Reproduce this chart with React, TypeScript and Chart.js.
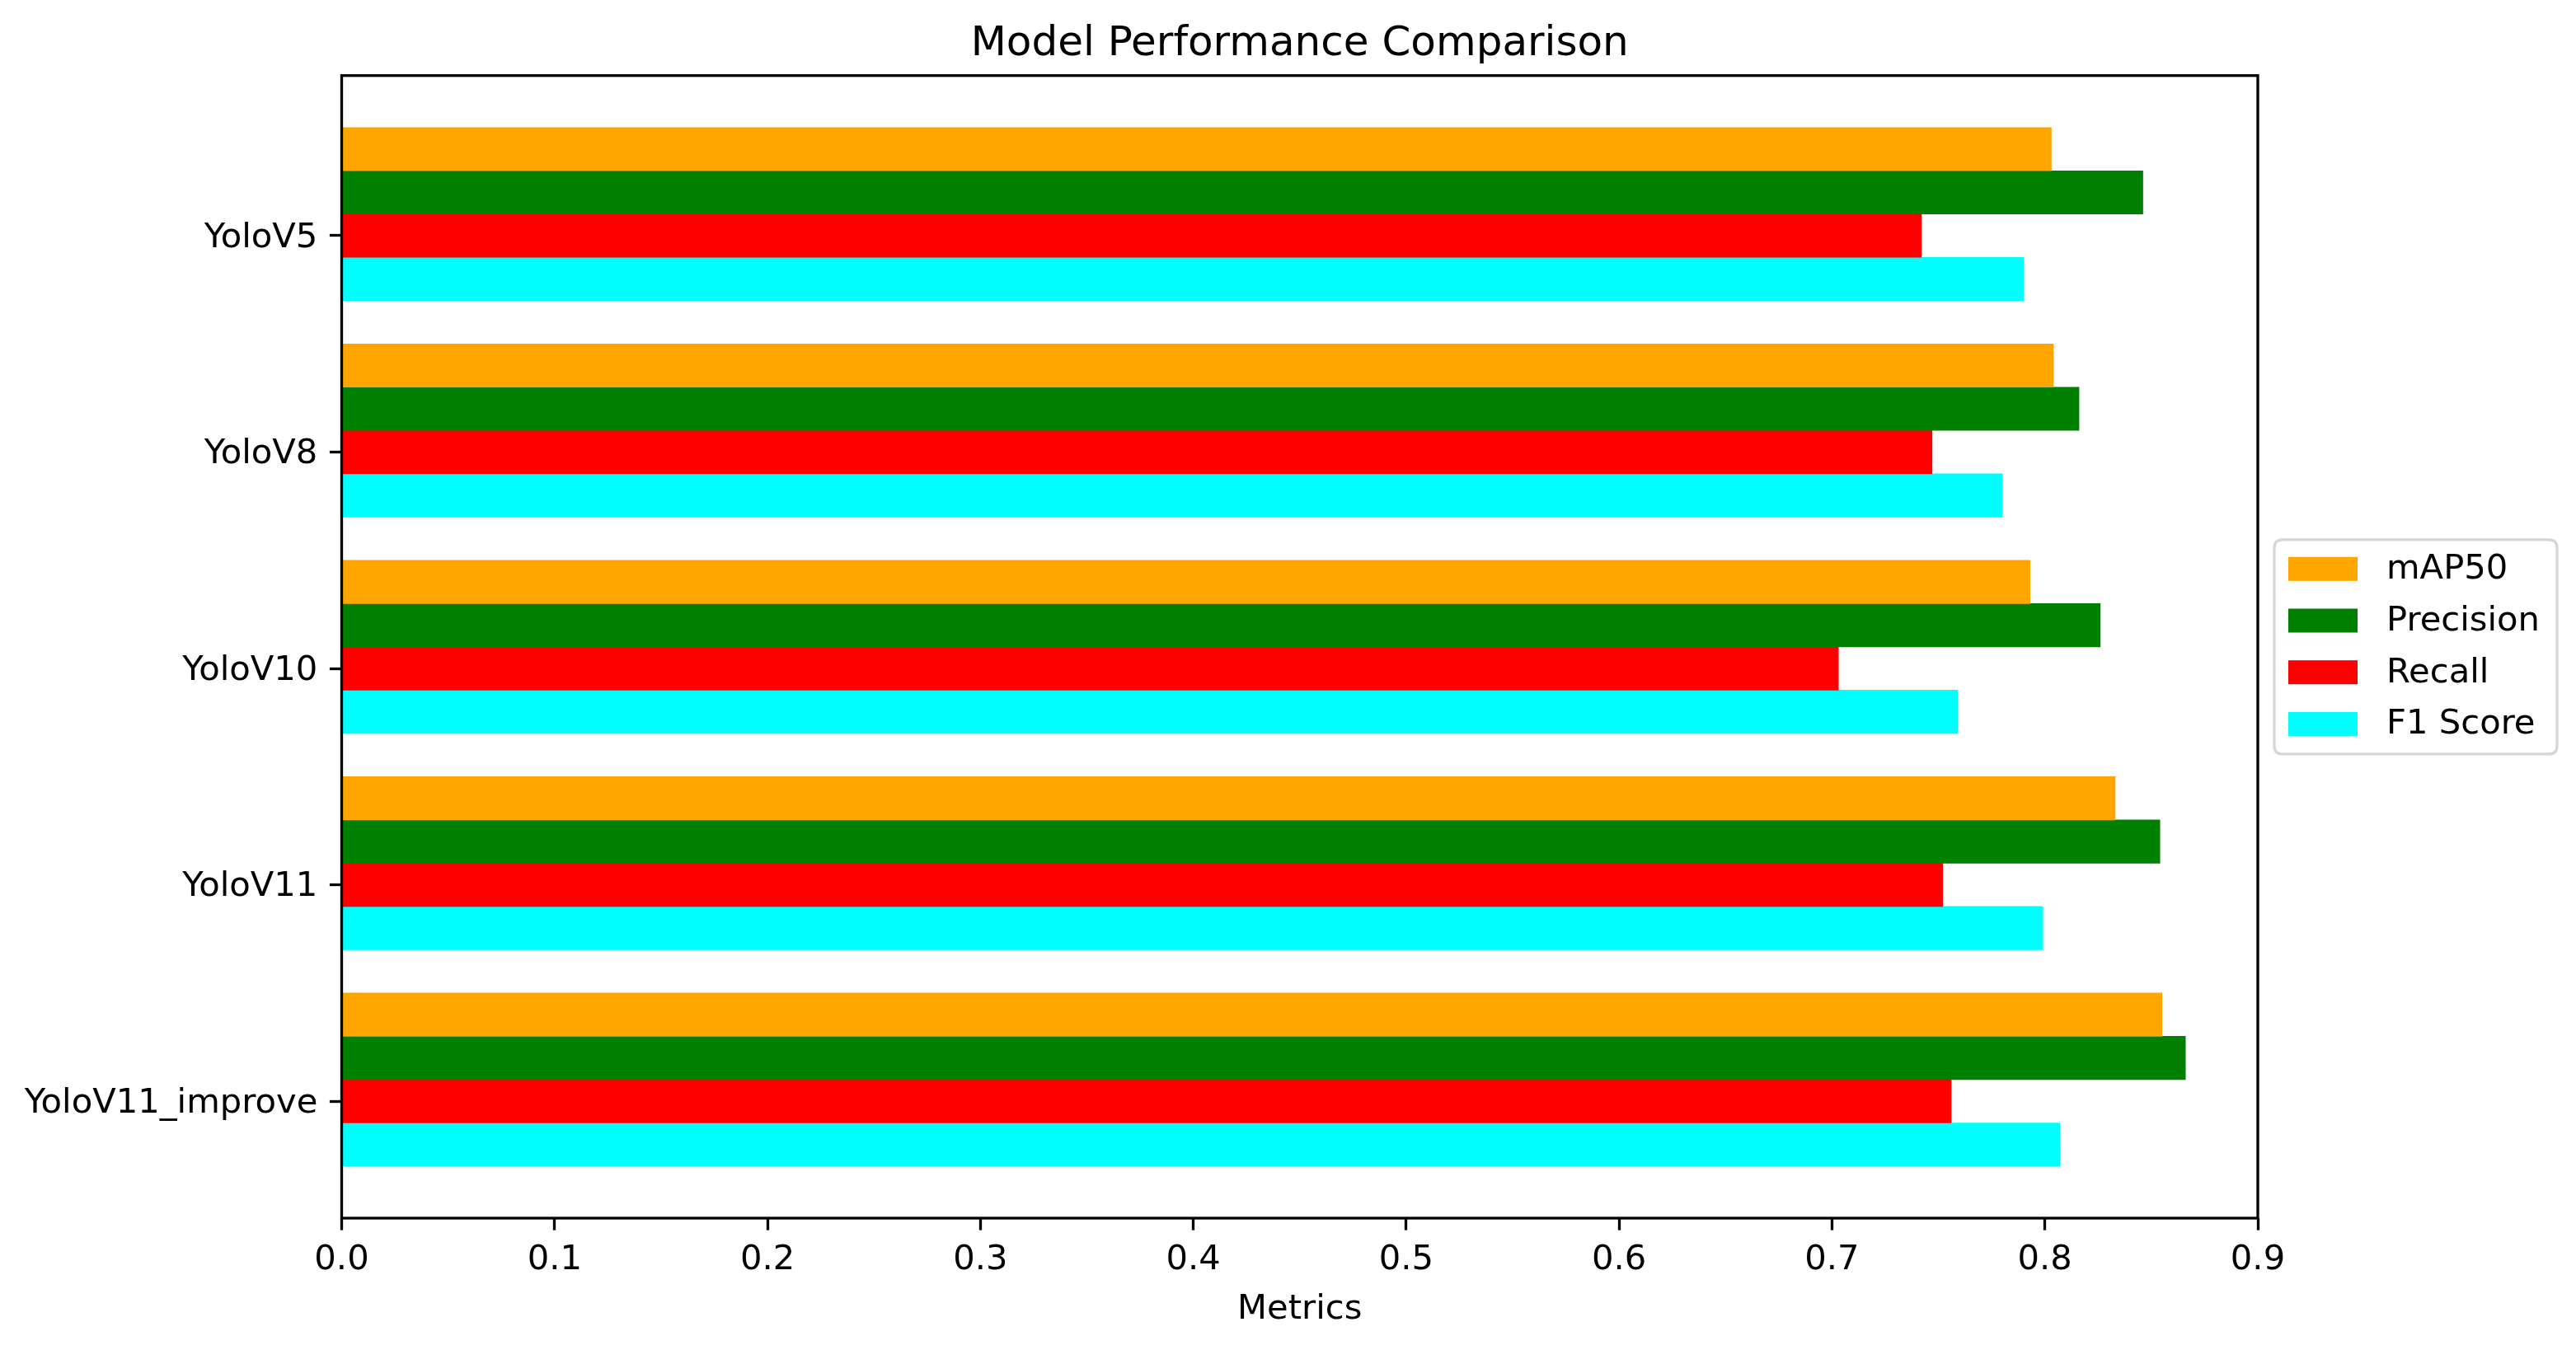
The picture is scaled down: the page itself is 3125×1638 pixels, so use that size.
import { useEffect, useRef } from "react";
import { Chart, registerables } from "chart.js";

Chart.register(...registerables);

// ---------- data ----------
const categories = ["YoloV5", "YoloV8", "YoloV10", "YoloV11", "YoloV11_improve"];
const seriesNames = ["mAP50", "Precision", "Recall", "F1 Score"];
const seriesColors = ["#FFA500", "#008000", "#FF0000", "#00FFFF"];
const map50 = [0.803, 0.804, 0.793, 0.833, 0.855];
const precision = [0.846, 0.816, 0.826, 0.854, 0.866];
const recall = [0.742, 0.747, 0.703, 0.752, 0.756];
const f1Score = [0.79, 0.78, 0.759, 0.799, 0.807];
const xTickValues = [0, 0.1, 0.2, 0.3, 0.4, 0.5, 0.6, 0.7, 0.8, 0.9];
const seriesValues = [map50, precision, recall, f1Score];

// ---------- layout constants ----------
const W = 3125;
const H = 1638;
const FONT = "'DejaVu Sans', 'Liberation Sans', sans-serif";
const FS = 41.7; // 10pt at 300dpi
const TITLE_FS = 50;
const LINE_W = 3.3;
const TICK_LEN = 14.6;
const BAR_STEP = 0.2;
const TICK_OFFSET = 0.4;
const Y_MIN = -0.34;
const Y_MAX = 4.94;

const framePlugin = {
  id: "frame",
  afterDatasetsDraw(chart: any) {
    const { ctx, chartArea } = chart;
    ctx.save();
    ctx.strokeStyle = "#000";
    ctx.lineWidth = LINE_W;
    ctx.lineJoin = "miter";
    ctx.strokeRect(
      chartArea.left,
      chartArea.top,
      chartArea.right - chartArea.left,
      chartArea.bottom - chartArea.top
    );
    ctx.restore();
  },
};

const legendPlugin = {
  id: "mplLegend",
  afterDraw(chart: any) {
    const { ctx, chartArea } = chart;
    const datasets = chart.data.datasets;
    ctx.save();
    ctx.font = `${FS}px ${FONT}`;
    let maxText = 0;
    datasets.forEach((d: any) => {
      maxText = Math.max(maxText, ctx.measureText(d.label).width);
    });
    const handleW = 84;
    const handleH = 29;
    const padX = 17;
    const gap = 35;
    const rowH = 62.7;
    const padY = 21;
    const boxW = padX + handleW + gap + maxText + 21;
    const boxH = padY * 2 + rowH * (datasets.length - 1) + handleH + 1;
    const x0 = chartArea.right + 20;
    const cy = (chartArea.top + chartArea.bottom) / 2;
    const y0 = cy - boxH / 2;
    const r = 10;
    ctx.beginPath();
    ctx.moveTo(x0 + r, y0);
    ctx.lineTo(x0 + boxW - r, y0);
    ctx.quadraticCurveTo(x0 + boxW, y0, x0 + boxW, y0 + r);
    ctx.lineTo(x0 + boxW, y0 + boxH - r);
    ctx.quadraticCurveTo(x0 + boxW, y0 + boxH, x0 + boxW - r, y0 + boxH);
    ctx.lineTo(x0 + r, y0 + boxH);
    ctx.quadraticCurveTo(x0, y0 + boxH, x0, y0 + boxH - r);
    ctx.lineTo(x0, y0 + r);
    ctx.quadraticCurveTo(x0, y0, x0 + r, y0);
    ctx.closePath();
    ctx.fillStyle = "rgba(255,255,255,0.8)";
    ctx.fill();
    ctx.strokeStyle = "#d6d6d6";
    ctx.lineWidth = LINE_W;
    ctx.stroke();
    ctx.textAlign = "left";
    ctx.textBaseline = "middle";
    datasets.forEach((d: any, i: number) => {
      const top = y0 + padY + i * rowH;
      ctx.fillStyle = d.backgroundColor;
      ctx.fillRect(x0 + padX, top, handleW, handleH);
      ctx.fillStyle = "#000";
      ctx.fillText(d.label, x0 + padX + handleW + gap, top + handleH / 2 + 1);
    });
    ctx.restore();
  },
};

export default function App() {
  const canvasRef = useRef<HTMLCanvasElement | null>(null);

  useEffect(() => {
    const canvas = canvasRef.current;
    if (!canvas) return;

    const datasets = seriesValues.map((vals, k) => ({
      label: seriesNames[k],
      data: vals.map((v, i) => ({ x: v, y: i + k * BAR_STEP })),
      backgroundColor: seriesColors[k],
      borderWidth: 0,
      grouped: false,
      barPercentage: 1,
      categoryPercentage: 1,
    }));

    const chart = new Chart(canvas, {
      type: "bar",
      data: { datasets },
      options: {
        indexAxis: "y",
        responsive: false,
        animation: false,
        devicePixelRatio: 1,
        layout: { padding: { left: 0, right: W - 2739, top: 0, bottom: 0 } },
        plugins: {
          legend: { display: false },
          tooltip: { enabled: false },
          title: {
            display: true,
            fullSize: false,
            text: "Model Performance Comparison",
            color: "#000",
            font: { family: FONT, size: TITLE_FS, weight: "normal", lineHeight: 1.2 },
            padding: { top: 24, bottom: 7.7 },
          },
        },
        scales: {
          x: {
            type: "linear",
            position: "bottom",
            min: 0,
            max: 0.9,
            offset: false,
            afterBuildTicks: (axis: any) => {
              axis.ticks = xTickValues.map((v) => ({ value: v }));
            },
            afterFit: (scale: any) => {
              scale.height = H - 1478;
            },
            ticks: {
              color: "#000",
              font: { family: FONT, size: FS, lineHeight: 1.2 },
              padding: 12,
              maxRotation: 0,
              autoSkip: false,
              callback: (v: any) => Number(v).toFixed(1),
            },
            grid: {
              display: true,
              offset: false,
              drawOnChartArea: false,
              drawTicks: true,
              tickLength: TICK_LEN,
              tickWidth: LINE_W,
              tickColor: "#000",
            },
            border: { display: false },
            title: {
              display: true,
              text: "Metrics",
              color: "#000",
              font: { family: FONT, size: FS, lineHeight: 1.2 },
              padding: { top: 24, bottom: 24 },
            },
          },
          y: {
            type: "linear",
            position: "left",
            reverse: true,
            offset: false,
            min: Y_MIN,
            max: Y_MAX,
            afterBuildTicks: (axis: any) => {
              axis.ticks = categories.map((_, i) => ({ value: i + TICK_OFFSET }));
            },
            afterFit: (scale: any) => {
              scale.width = 414.5;
            },
            ticks: {
              color: "#000",
              font: { family: FONT, size: FS, lineHeight: 1.2 },
              padding: 14.6,
              labelOffset: 3,
              autoSkip: false,
              callback: (_v: any, idx: number) => categories[idx],
            },
            grid: {
              display: true,
              offset: false,
              drawOnChartArea: false,
              drawTicks: true,
              tickLength: TICK_LEN,
              tickWidth: LINE_W,
              tickColor: "#000",
            },
            border: { display: false },
          },
        },
      },
      plugins: [framePlugin, legendPlugin],
    } as any);

    return () => chart.destroy();
  }, []);

  return (
    <div style={{ position: "fixed", left: 0, top: 0, width: W, height: H, background: "#fff" }}>
      <canvas ref={canvasRef} width={W} height={H} style={{ width: W, height: H, display: "block" }} />
    </div>
  );
}
